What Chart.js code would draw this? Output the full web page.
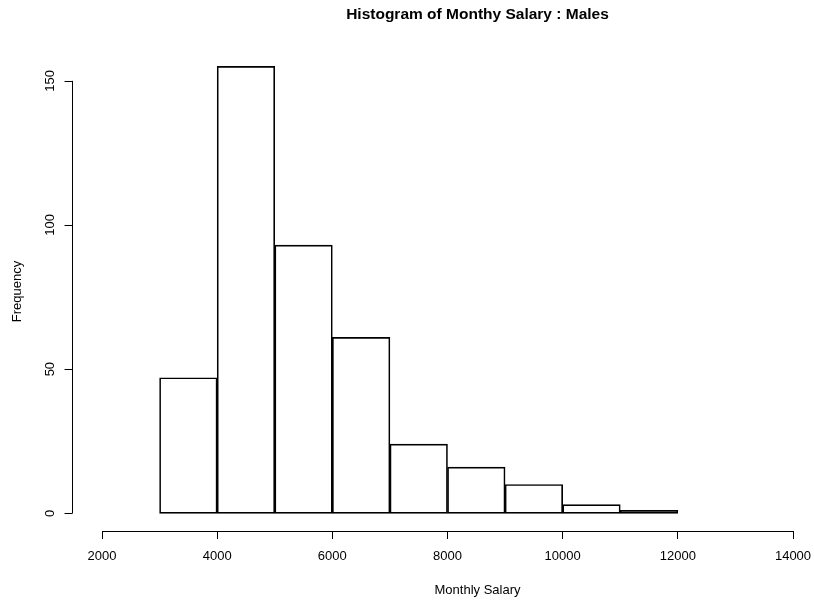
<!DOCTYPE html>
<html>
<head>
<meta charset="utf-8">
<title>Histogram of Monthy Salary : Males</title>
<script src="https://cdn.jsdelivr.net/npm/chart.js@4.4.1/dist/chart.umd.min.js"></script>
<style>
  html, body { margin: 0; padding: 0; background: #fff; }
  #wrap { width: 814px; height: 603px; position: relative; }
</style>
</head>
<body>
<div id="wrap"><canvas id="histChart"></canvas></div>
<script>
// histogram bins (salary break points) and counts
const binEdges = [3000, 4000, 5000, 6000, 7000, 8000, 9000, 10000, 11000, 12000];
const counts = [47, 155, 93, 61, 24, 16, 10, 3, 1];
const xTicks = [2000, 4000, 6000, 8000, 10000, 12000, 14000];
const yTicks = [0, 50, 100, 150];

const chartTitle = "Histogram of Monthy Salary : Males";
const xLabel = "Monthly Salary";
const yLabel = "Frequency";

const fontFam = "'Liberation Sans', Arial, Helvetica, sans-serif";

let barData = [];
for (let i = 0; i < counts.length; i++) {
    barData.push({x: (binEdges[i] + binEdges[i + 1]) / 2, y: counts[i]});
}

// R style axes: y axis sits apart from the plot, only from 0 to 150.
// main title and x label are centred on R's plot region, a bit right of the axis centre
const rAxes = {
    id: 'rAxes',
    afterDraw(chart) {
        const ctx = chart.ctx;
        const ys = chart.scales.y;
        const area = chart.chartArea;
        const ax = Math.round(area.left - 30) + 0.5;
        ctx.save();
        ctx.strokeStyle = '#000';
        ctx.lineWidth = 1;
        ctx.beginPath();
        ctx.moveTo(ax, ys.getPixelForValue(yTicks[0]));
        ctx.lineTo(ax, ys.getPixelForValue(yTicks[yTicks.length - 1]));
        for (let v of yTicks) {
            let py = Math.round(ys.getPixelForValue(v)) + 0.5;
            ctx.moveTo(ax - 8, py);
            ctx.lineTo(ax, py);
        }
        ctx.stroke();

        const cx = (area.left + area.right) / 2 + 30;
        ctx.fillStyle = '#000';
        ctx.textAlign = 'center';
        ctx.textBaseline = 'middle';
        ctx.font = "bold 15.5px " + fontFam;
        ctx.fillText(chartTitle, cx, 15);
        ctx.font = "13px " + fontFam;
        ctx.fillText(xLabel, cx, 590);
        ctx.restore();
    }
};

let config = {
    type: 'bar',
    data: {
        datasets: [{
            label: 'Frequency',
            data: barData,
            backgroundColor: 'rgba(255,255,255,0)',
            borderColor: '#000',
            borderWidth: 1,
            borderSkipped: false,
            barPercentage: 1,
            categoryPercentage: 1
        }]
    },
    options: {
        responsive: true,
        maintainAspectRatio: false,
        animation: false,
        layout: {padding: {left: 0, right: 21, top: 52, bottom: 0}},
        plugins: {
            legend: {display: false},
            tooltip: {enabled: false},
            title: {display: false}
        },
        scales: {
            x: {
                type: 'linear',
                min: 2000,
                max: 14000,
                offset: false,
                afterBuildTicks: (s) => { s.ticks = xTicks.map(v => ({value: v})); },
                afterFit: (s) => { s.height = 72; s.paddingLeft = 0; s.paddingRight = 0; },
                border: {display: true, color: '#000', width: 1},
                grid: {offset: false, drawOnChartArea: false, drawTicks: true, tickLength: 8, color: '#000'},
                ticks: {
                    color: '#000',
                    font: {family: fontFam, size: 13},
                    padding: 10,
                    maxRotation: 0,
                    autoSkip: false,
                    callback: (v) => String(v)
                },
                title: {display: false}
            },
            y: {
                min: -6.14,
                max: 160,
                afterBuildTicks: (s) => { s.ticks = yTicks.map(v => ({value: v})); },
                afterFit: (s) => { s.width = 102; s.paddingTop = 0; s.paddingBottom = 0; },
                border: {display: false},
                grid: {display: false, drawTicks: false},
                ticks: {
                    color: '#000',
                    font: {family: fontFam, size: 13},
                    minRotation: 90,
                    maxRotation: 90,
                    crossAlign: 'center',
                    padding: 41,
                    autoSkip: false
                },
                title: {
                    display: true,
                    text: yLabel,
                    color: '#000',
                    font: {family: fontFam, size: 13},
                    padding: {top: 10, bottom: 0}
                }
            }
        }
    },
    plugins: [rAxes]
};

let myChart = new Chart(document.getElementById('histChart'), config);
</script>
</body>
</html>
